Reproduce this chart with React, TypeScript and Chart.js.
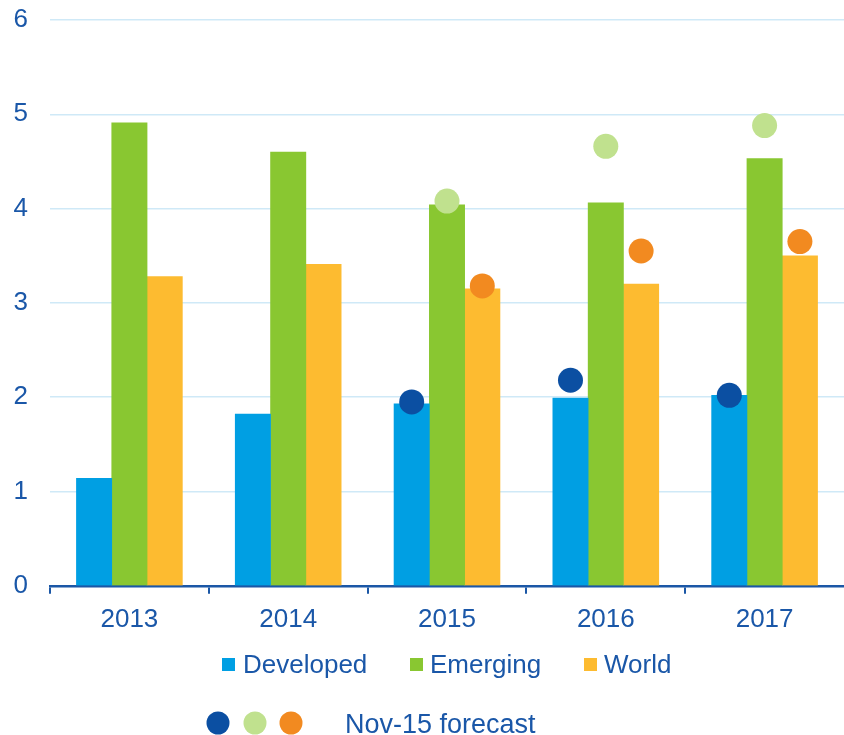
import React, { useEffect, useRef } from "react";
import { Chart, registerables } from "chart.js";

Chart.register(...registerables);

const categories = ["2013", "2014", "2015", "2016", "2017"];
const developed = [1.14, 1.82, 1.93, 1.99, 2.02];
const emerging = [4.91, 4.6, 4.04, 4.06, 4.53];
const world = [3.28, 3.41, 3.15, 3.2, 3.5];
const developedForecast = [null, null, 1.95, 2.18, 2.02];
const emergingForecast = [null, null, 4.08, 4.66, 4.88];
const worldForecast = [null, null, 3.18, 3.55, 3.65];
const yMin = 0;
const yMax = 6;
const yStep = 1;
const seriesLabels = ["Developed", "Emerging", "World"];
const forecastLabel = "Nov-15 forecast";

const TEXT = "#1a57a8";
const AXIS = "#1b57a6";
const GRID = "#cfe9f7";
const C_DEV = "#009fe3";
const C_EM = "#89c731";
const C_WORLD = "#fdbb30";
const C_DEV_F = "#0b4fa2";
const C_EM_F = "#c0e18e";
const C_WORLD_F = "#f28a20";
const FONT = "'Liberation Sans', Arial, sans-serif";

// share of each category occupied by the three bars, and one bar's slot
const GROUP_SHARE = 0.667;
const BAR_SLOT = GROUP_SHARE / 3;

function toPoints(values: (number | null)[], offset: number) {
  return values.map((v, i) => ({ x: i + offset, y: v }));
}

const legendPlugin = {
  id: "customLegend",
  afterDraw(chart: any) {
    const ctx = chart.ctx;
    ctx.save();
    ctx.textBaseline = "alphabetic";
    ctx.textAlign = "left";
    ctx.font = `26px ${FONT}`;
    const row1 = [
      { sq: 222, tx: 243, color: C_DEV, label: seriesLabels[0] },
      { sq: 410, tx: 430, color: C_EM, label: seriesLabels[1] },
      { sq: 584, tx: 604, color: C_WORLD, label: seriesLabels[2] },
    ];
    row1.forEach((it) => {
      ctx.fillStyle = it.color;
      ctx.fillRect(it.sq, 658, 13, 13);
      ctx.fillStyle = TEXT;
      ctx.fillText(it.label, it.tx, 673);
    });
    const dots = [
      { x: 218, color: C_DEV_F },
      { x: 255, color: C_EM_F },
      { x: 291, color: C_WORLD_F },
    ];
    dots.forEach((d) => {
      ctx.beginPath();
      ctx.fillStyle = d.color;
      ctx.arc(d.x, 723, 11.5, 0, Math.PI * 2);
      ctx.fill();
    });
    ctx.font = `27px ${FONT}`;
    ctx.fillStyle = TEXT;
    ctx.fillText(forecastLabel, 345, 733);
    ctx.restore();
  },
};

export default function App() {
  const ref = useRef<HTMLCanvasElement | null>(null);
  useEffect(() => {
    if (!ref.current) return;
    const dotDataset = (label: string, values: (number | null)[], offset: number, color: string) => ({
      type: "line" as const,
      label,
      data: toPoints(values, offset),
      xAxisID: "xl",
      showLine: false,
      pointRadius: 12.5,
      pointHoverRadius: 12.5,
      pointBackgroundColor: color,
      pointBorderWidth: 0,
      borderColor: color,
      backgroundColor: color,
      clip: false,
      order: 1,
    });
    const barDataset = (label: string, values: number[], offset: number, color: string) => ({
      type: "bar" as const,
      label,
      data: toPoints(values, offset),
      xAxisID: "xl",
      grouped: false,
      backgroundColor: color,
      borderWidth: 0,
      categoryPercentage: 1,
      barPercentage: 1,
      order: 2,
    });
    const chart = new Chart(ref.current, {
      type: "bar",
      data: {
        labels: categories,
        datasets: [
          barDataset(seriesLabels[0], developed, -BAR_SLOT, C_DEV),
          barDataset(seriesLabels[1], emerging, 0, C_EM),
          barDataset(seriesLabels[2], world, BAR_SLOT, C_WORLD),
          dotDataset("Developed forecast", developedForecast, -BAR_SLOT, C_DEV_F),
          dotDataset("Emerging forecast", emergingForecast, 0, C_EM_F),
          dotDataset("World forecast", worldForecast, BAR_SLOT, C_WORLD_F),
        ] as any,
      },
      options: {
        animation: false,
        responsive: false,
        devicePixelRatio: 1,
        layout: { autoPadding: false, padding: { top: 20, left: 13.5, right: 0, bottom: 90 } },
        plugins: {
          legend: { display: false },
          tooltip: { enabled: false },
        },
        scales: {
          x: {
            type: "category",
            offset: true,
            afterFit: (s: any) => {
              s.paddingLeft = 0;
              s.paddingRight = 0;
            },
            grid: {
              offset: true,
              drawOnChartArea: false,
              drawTicks: true,
              tickLength: 8,
              color: (c: any) => (c.type !== "tick" || c.index >= categories.length ? "rgba(0,0,0,0)" : AXIS),
              lineWidth: 2,
            },
            border: { display: true, color: AXIS, width: 2.5 },
            ticks: {
              color: TEXT,
              font: { family: FONT, size: 26 },
              padding: 10,
              maxRotation: 0,
            },
          },
          xl: {
            type: "linear",
            axis: "x",
            display: false,
            offset: false,
            min: -0.5,
            max: 4.5,
            afterFit: (s: any) => {
              s.paddingLeft = 0;
              s.paddingRight = 0;
            },
          },
          y: {
            min: yMin,
            max: yMax,
            afterFit: (s: any) => {
              s.paddingTop = 0;
              s.paddingBottom = 0;
              s.width = 36.5;
            },
            ticks: {
              stepSize: yStep,
              color: TEXT,
              font: { family: FONT, size: 26 },
              padding: 22,
            },
            grid: { color: GRID, lineWidth: 1.5, drawTicks: false },
            border: { display: false },
          },
        },
      },
      plugins: [legendPlugin],
    });
    return () => chart.destroy();
  }, []);
  return (
    <div style={{ position: "absolute", left: 0, top: 0, width: 844, height: 735, background: "#fff" }}>
      <canvas ref={ref} width={844} height={735} />
    </div>
  );
}
